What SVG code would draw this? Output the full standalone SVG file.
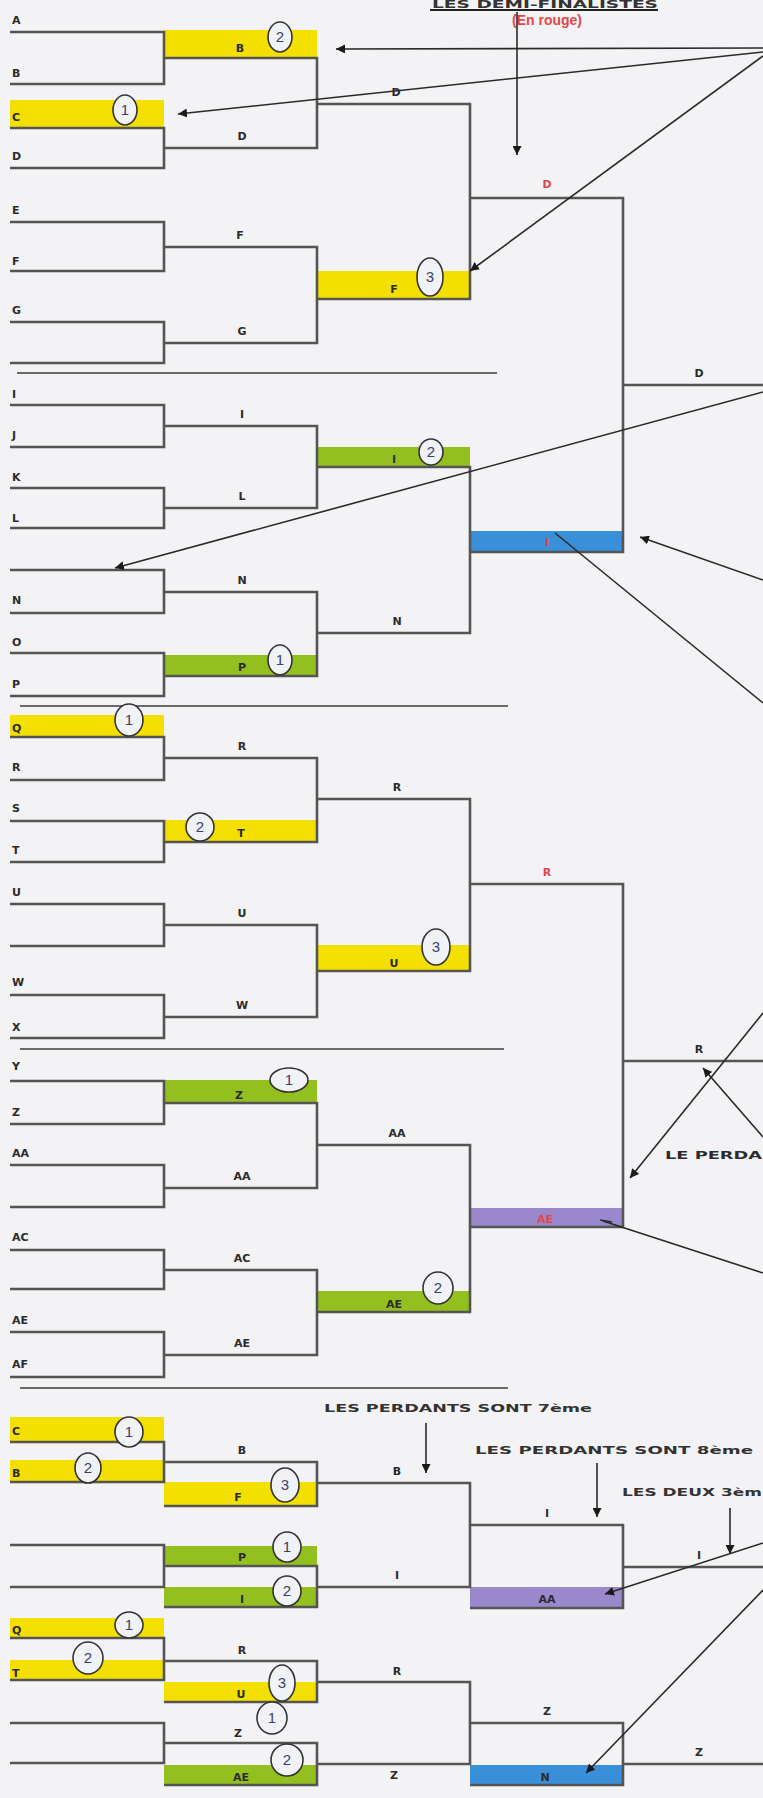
<svg xmlns="http://www.w3.org/2000/svg" width="763" height="1798" viewBox="0 0 763 1798">
<defs>
<style>
.bg{fill:#f3f3f5}
.br{fill:none;stroke:#555;stroke-width:2.6}
.sep{fill:none;stroke:#6a6a6a;stroke-width:2.2}
.ar{fill:none;stroke:#2a2a2a;stroke-width:1.6}
.y{fill:#f3e000}
.g{fill:#93c01f}
.b{fill:#3a90d8}
.p{fill:#9a88cc}
.t{font-family:"DejaVu Sans","Liberation Sans",sans-serif;font-weight:bold;font-size:11px;fill:#2b2b2b}
.tc{font-family:"DejaVu Sans","Liberation Sans",sans-serif;font-weight:bold;font-size:11px;fill:#2b2b2b;text-anchor:middle}
.red{font-family:"DejaVu Sans","Liberation Sans",sans-serif;font-weight:bold;font-size:11px;fill:#e2474a;text-anchor:middle}
.note{font-family:"DejaVu Sans","Liberation Sans",sans-serif;font-weight:bold;font-size:10.5px;fill:#333}
.c{fill:#f1f2f6;stroke:#333;stroke-width:1.6}
.n{font-family:"Liberation Sans",sans-serif;font-size:15px;fill:#3a3f6a;text-anchor:middle}
</style>
<marker id="ah" viewBox="0 0 10 10" refX="10" refY="5" markerWidth="9" markerHeight="9" markerUnits="userSpaceOnUse" orient="auto">
<path d="M0,0 L10,5 L0,10 z" fill="#1a1a1a"/>
</marker>
</defs>
<rect class="bg" x="0" y="0" width="763" height="1798"/>

<!-- header -->
<g id="header">
<text x="432" y="8" class="note" font-size="9" textLength="226" lengthAdjust="spacingAndGlyphs">LES DEMI-FINALISTES</text>
<line x1="430" y1="10" x2="658" y2="10" stroke="#222" stroke-width="2"/>
<text x="547" y="25" font-family="Liberation Sans, sans-serif" font-weight="bold" font-size="14" fill="#e2474a" text-anchor="middle">(En rouge)</text>
</g>

<!-- colored boxes -->
<g id="boxes">
<rect class="y" x="164" y="30" width="153" height="28"/>
<rect class="y" x="10" y="100" width="154" height="28"/>
<rect class="y" x="317" y="271" width="153" height="28"/>
<rect class="g" x="317" y="447" width="153" height="20"/>
<rect class="b" x="470" y="531" width="153" height="21"/>
<rect class="g" x="164" y="655" width="153" height="21"/>
<rect class="y" x="10" y="715" width="154" height="22"/>
<rect class="y" x="164" y="820" width="153" height="22"/>
<rect class="y" x="317" y="945" width="153" height="26"/>
<rect class="g" x="164" y="1080" width="153" height="23"/>
<rect class="p" x="470" y="1208" width="153" height="20"/>
<rect class="g" x="317" y="1291" width="153" height="21"/>
<rect class="y" x="10" y="1417" width="154" height="25"/>
<rect class="y" x="10" y="1460" width="154" height="22"/>
<rect class="y" x="164" y="1482" width="153" height="24"/>
<rect class="g" x="164" y="1546" width="153" height="20"/>
<rect class="g" x="164" y="1587" width="153" height="20"/>
<rect class="p" x="470" y="1587" width="153" height="21"/>
<rect class="y" x="10" y="1618" width="154" height="20"/>
<rect class="y" x="10" y="1660" width="154" height="20"/>
<rect class="y" x="164" y="1682" width="153" height="20"/>
<rect class="g" x="164" y="1765" width="153" height="20"/>
<rect class="b" x="470" y="1765" width="153" height="20"/>
</g>

<!-- connectors -->
<g id="connectors">
<path class="br" d="M10 32H164V84H10M10 128H164V168H10M10 222H164V271H10M10 322H164V363H10M10 405H164V447H10M10 488H164V528H10M10 570H164V613H10M10 653H164V696H10M10 737H164V780H10M10 821H164V862H10M10 904H164V946H10M10 995H164V1038H10M10 1081H164V1124H10M10 1165H164V1207H10M10 1250H164V1289H10M10 1332H164V1377H10"/>
<path class="br" d="M164 58H317V148H164M164 247H317V343H164M164 426H317V508H164M164 592H317V676H164M164 758H317V842H164M164 925H317V1017H164M164 1103H317V1188H164M164 1270H317V1355H164"/>
<path class="br" d="M317 104H470V299H317M317 467H470V633H317M317 799H470V971H317M317 1145H470V1312H317"/>
<path class="br" d="M470 198H623V552H470M470 884H623V1227H470"/>
<path class="br" d="M623 385H763M623 1061H763"/>
<path class="sep" d="M17 373H497M20 706H508M20 1049H504M20 1388H508"/>
<path class="br" d="M10 1442H164V1482H10M164 1462H317V1506H164M317 1483H470V1587H317M470 1525H623V1608H470M623 1567H763"/>
<path class="br" d="M10 1545H164V1587H10M164 1566H317V1607H164"/>
<path class="br" d="M10 1638H164V1680H10M164 1661H317V1702H164M317 1682H470V1764H317M470 1723H623V1785H470M623 1764H763"/>
<path class="br" d="M10 1723H164V1763H10M164 1743H317V1785H164"/>
<line class="ar" x1="763" y1="48" x2="336" y2="49" marker-end="url(#ah)"/>
<line class="ar" x1="763" y1="52" x2="178" y2="114" marker-end="url(#ah)"/>
<line class="ar" x1="763" y1="56" x2="470" y2="271" marker-end="url(#ah)"/>
<line class="ar" x1="517" y1="12" x2="517" y2="155" marker-end="url(#ah)"/>
<line class="ar" x1="763" y1="392" x2="115" y2="568" marker-end="url(#ah)"/>
<line class="ar" x1="763" y1="580" x2="640" y2="537" marker-end="url(#ah)"/>
<line class="ar" x1="555" y1="533" x2="763" y2="703"/>
<line class="ar" x1="763" y1="1013" x2="630" y2="1178" marker-end="url(#ah)"/>
<line class="ar" x1="763" y1="1137" x2="703" y2="1068" marker-end="url(#ah)"/>
<line class="ar" x1="603" y1="1221" x2="763" y2="1273"/>
<line class="ar" x1="426" y1="1423" x2="426" y2="1473" marker-end="url(#ah)"/>
<line class="ar" x1="597" y1="1463" x2="597" y2="1517" marker-end="url(#ah)"/>
<line class="ar" x1="730" y1="1508" x2="730" y2="1554" marker-end="url(#ah)"/>
<line class="ar" x1="763" y1="1543" x2="605" y2="1594" marker-end="url(#ah)"/>
<line class="ar" x1="763" y1="1590" x2="586" y2="1773" marker-end="url(#ah)"/>
</g>

<!-- entrant labels col1 -->
<g id="col1-labels">
<text class="t" x="12" y="24">A</text>
<text class="t" x="12" y="77">B</text>
<text class="t" x="12" y="121">C</text>
<text class="t" x="12" y="160">D</text>
<text class="t" x="12" y="214">E</text>
<text class="t" x="12" y="265">F</text>
<text class="t" x="12" y="314">G</text>
<text class="t" x="12" y="398">I</text>
<text class="t" x="12" y="439">J</text>
<text class="t" x="12" y="481">K</text>
<text class="t" x="12" y="522">L</text>
<text class="t" x="12" y="604">N</text>
<text class="t" x="12" y="646">O</text>
<text class="t" x="12" y="688">P</text>
<text class="t" x="12" y="732">Q</text>
<text class="t" x="12" y="771">R</text>
<text class="t" x="12" y="812">S</text>
<text class="t" x="12" y="854">T</text>
<text class="t" x="12" y="896">U</text>
<text class="t" x="12" y="986">W</text>
<text class="t" x="12" y="1031">X</text>
<text class="t" x="12" y="1070">Y</text>
<text class="t" x="12" y="1116">Z</text>
<text class="t" x="12" y="1157">AA</text>
<text class="t" x="12" y="1241">AC</text>
<text class="t" x="12" y="1324">AE</text>
<text class="t" x="12" y="1368">AF</text>
</g>

<g id="round-labels">
<text class="tc" x="240" y="52">B</text>
<text class="tc" x="242" y="140">D</text>
<text class="tc" x="396" y="96">D</text>
<text class="tc" x="240" y="239">F</text>
<text class="tc" x="242" y="335">G</text>
<text class="tc" x="394" y="293">F</text>
<text class="tc" x="242" y="418">I</text>
<text class="tc" x="242" y="500">L</text>
<text class="tc" x="394" y="463">I</text>
<text class="tc" x="242" y="584">N</text>
<text class="tc" x="242" y="671">P</text>
<text class="tc" x="397" y="625">N</text>
<text class="tc" x="242" y="750">R</text>
<text class="tc" x="241" y="837">T</text>
<text class="tc" x="397" y="791">R</text>
<text class="tc" x="242" y="917">U</text>
<text class="tc" x="242" y="1009">W</text>
<text class="tc" x="394" y="967">U</text>
<text class="tc" x="239" y="1099">Z</text>
<text class="tc" x="242" y="1180">AA</text>
<text class="tc" x="397" y="1137">AA</text>
<text class="tc" x="242" y="1262">AC</text>
<text class="tc" x="242" y="1347">AE</text>
<text class="tc" x="394" y="1308">AE</text>
<text class="red" x="547" y="188">D</text>
<text class="red" x="547" y="546">I</text>
<text class="red" x="547" y="876">R</text>
<text class="red" x="545" y="1223">AE</text>
<text class="tc" x="699" y="377">D</text>
<text class="tc" x="699" y="1053">R</text>
<text class="t" x="665" y="1159" textLength="97" lengthAdjust="spacingAndGlyphs">LE PERDA</text>
<line x1="600" y1="1220" x2="612" y2="1222" stroke="#2a2a2a" stroke-width="1.6"/>
</g>

<g id="repechage-labels">
<text class="t" x="12" y="1435">C</text>
<text class="t" x="12" y="1477">B</text>
<text class="tc" x="242" y="1454">B</text>
<text class="tc" x="238" y="1501">F</text>
<text class="tc" x="397" y="1475">B</text>
<text class="tc" x="242" y="1561">P</text>
<text class="tc" x="242" y="1603">I</text>
<text class="tc" x="397" y="1579">I</text>
<text class="tc" x="547" y="1517">I</text>
<text class="tc" x="547" y="1603">AA</text>
<text class="tc" x="699" y="1559">I</text>
<text class="t" x="12" y="1634">Q</text>
<text class="t" x="12" y="1677">T</text>
<text class="tc" x="242" y="1654">R</text>
<text class="tc" x="241" y="1698">U</text>
<text class="tc" x="397" y="1675">R</text>
<text class="tc" x="238" y="1737">Z</text>
<text class="tc" x="241" y="1781">AE</text>
<text class="tc" x="394" y="1779">Z</text>
<text class="tc" x="547" y="1715">Z</text>
<text class="tc" x="545" y="1781">N</text>
<text class="tc" x="699" y="1756">Z</text>
<text class="note" x="324" y="1412" textLength="268" lengthAdjust="spacingAndGlyphs">LES PERDANTS SONT 7ème</text>
<text class="note" x="475" y="1454" textLength="278" lengthAdjust="spacingAndGlyphs">LES PERDANTS SONT 8ème</text>
<text class="note" x="622" y="1496" textLength="140" lengthAdjust="spacingAndGlyphs">LES DEUX 3èm</text>
</g>

<!-- numbered circles -->
<g id="circles">
<ellipse class="c" cx="280" cy="37" rx="12" ry="15"/><text class="n" x="280" y="42">2</text>
<ellipse class="c" cx="125" cy="110" rx="12" ry="15"/><text class="n" x="125" y="115">1</text>
<ellipse class="c" cx="430" cy="277" rx="13" ry="19"/><text class="n" x="430" y="282">3</text>
<ellipse class="c" cx="431" cy="452" rx="12" ry="13"/><text class="n" x="431" y="457">2</text>
<ellipse class="c" cx="280" cy="660" rx="12" ry="15"/><text class="n" x="280" y="665">1</text>
<ellipse class="c" cx="129" cy="720" rx="14" ry="16"/><text class="n" x="129" y="725">1</text>
<ellipse class="c" cx="200" cy="827" rx="14" ry="14"/><text class="n" x="200" y="832">2</text>
<ellipse class="c" cx="436" cy="947" rx="14" ry="18"/><text class="n" x="436" y="952">3</text>
<ellipse class="c" cx="289" cy="1080" rx="19" ry="12"/><text class="n" x="289" y="1085">1</text>
<ellipse class="c" cx="438" cy="1288" rx="15" ry="16"/><text class="n" x="438" y="1293">2</text>
<ellipse class="c" cx="129" cy="1432" rx="14" ry="15"/><text class="n" x="129" y="1437">1</text>
<ellipse class="c" cx="88" cy="1468" rx="13" ry="15"/><text class="n" x="88" y="1473">2</text>
<ellipse class="c" cx="285" cy="1485" rx="14" ry="17"/><text class="n" x="285" y="1490">3</text>
<ellipse class="c" cx="287" cy="1547" rx="14" ry="15"/><text class="n" x="287" y="1552">1</text>
<ellipse class="c" cx="287" cy="1591" rx="14" ry="15"/><text class="n" x="287" y="1596">2</text>
<ellipse class="c" cx="129" cy="1625" rx="14" ry="13"/><text class="n" x="129" y="1630">1</text>
<ellipse class="c" cx="88" cy="1658" rx="15" ry="16"/><text class="n" x="88" y="1663">2</text>
<ellipse class="c" cx="282" cy="1683" rx="13" ry="18"/><text class="n" x="282" y="1688">3</text>
<ellipse class="c" cx="272" cy="1718" rx="15" ry="16"/><text class="n" x="272" y="1723">1</text>
<ellipse class="c" cx="287" cy="1760" rx="16" ry="16"/><text class="n" x="287" y="1765">2</text>
</g>
</svg>
